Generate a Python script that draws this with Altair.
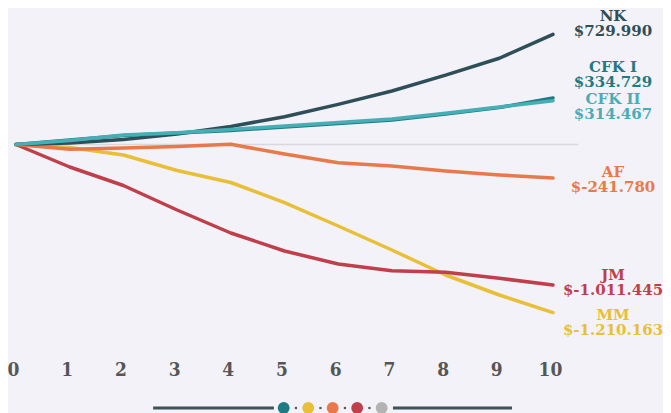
import altair as alt
import pandas as pd

# ---------------- data ----------------
years = list(range(11))
series = ["NK", "CFK I", "CFK II", "AF", "JM", "MM"]
colors = ["#2e4f59", "#1f7b82", "#47aeb6", "#e9794a", "#bf3f4b", "#e8bf36"]

NK = [0, 11000, 36000, 76000, 130000, 200000, 289000, 385000, 500000, 621000, 793000]
CFK_I = [0, 32400, 64800, 82800, 100800, 126000, 151200, 176400, 219600, 266400, 334729]
CFK_II = [0, 28800, 68400, 85000, 108000, 133200, 158400, 183600, 224600, 270000, 314467]
AF = [0, -34560, -25200, -14400, 1440, -68400, -131040, -154800, -190800, -219600, -241780]
JM = [0, -162000, -295200, -471600, -637200, -766800, -860400, -908640, -920160, -963360, -1011445]
MM = [0, -21600, -75600, -187200, -273600, -419040, -586800, -759600, -939600, -1083600, -1210163]

final_values = [729990, 334729, 314467, -241780, -1011445, -1210163]
values = [NK, CFK_I, CFK_II, AF, JM, MM]

dot_colors = ["#1f7b82", "#e8bf36", "#e9794a", "#bf3f4b", "#b3b3b3"]

# ---------------- layout / style ----------------
FONT_LAB = "DejaVu Serif"
FONT_AX = "DejaVu Serif Condensed"
BG = "#f3f2f8"
LABEL_DX = 60
# vertical offset of each label's first line relative to its line end
label_dy = {"NK": -18.8, "CFK I": -31.5, "CFK II": -1.5, "AF": -6.4, "JM": -9.5, "MM": 2.9}
draw_order = ["MM", "JM", "AF", "NK", "CFK I", "CFK II"]

rows = []
for s, vals in zip(series, values):
    for yr, v in zip(years, vals):
        rows.append({"serie": s, "year": yr, "value": v})
df = pd.DataFrame(rows)

x_scale = alt.Scale(domain=[0, 10], nice=False, zero=False)
y_scale = alt.Scale(domain=[-1479600, 982800], nice=False, zero=False)

x_axis = alt.Axis(values=years, format="d", ticks=False, tickSize=0,
                  domain=False, grid=False, title=None,
                  labelFont=FONT_AX, labelFontWeight="bold",
                  labelFontSize=19, labelColor="#565656",
                  labelBaseline="middle", labelPadding=19,
                  labelOffset=-3, labelFlush=False)

layers = []

# zero reference line
zero_df = pd.DataFrame({"x": [0], "x2": [10.47], "y": [0]})
layers.append(
    alt.Chart(zero_df).mark_rule(color="#d9d8de", strokeWidth=1.3).encode(
        x=alt.X("x:Q", scale=x_scale, axis=x_axis),
        x2="x2:Q",
        y=alt.Y("y:Q", scale=y_scale, axis=None),
    )
)

for s in draw_order:
    i = series.index(s)
    layers.append(
        alt.Chart(df[df.serie == s]).mark_line(
            color=colors[i], strokeWidth=3.5, strokeCap="round", strokeJoin="round"
        ).encode(x=alt.X("year:Q"), y=alt.Y("value:Q"))
    )

for i, s in enumerate(series):
    end = values[i][-1]
    txt_val = ("$" + f"{final_values[i]:,}").replace(",", ".")
    layers.append(
        alt.Chart(pd.DataFrame({"year": [10], "value": [end], "t": [s + "\n" + txt_val]})).mark_text(
            font=FONT_LAB, fontWeight="bold", fontSize=15, color=colors[i],
            align="center", baseline="middle", lineBreak="\n", lineHeight=15,
            dx=LABEL_DX, dy=label_dy[s]
        ).encode(x="year:Q", y="value:Q", text="t:N")
    )

# decorative pager at the bottom (index -> x via a linear map)
pager_y = -1897200
pager_lines = pd.DataFrame({"a": [-5.33, 4.46], "b": [-0.4, 9.32]})
pager_dots = pd.DataFrame({"i": list(range(5)), "c": dot_colors})
pager_small = pd.DataFrame({"i": [0.5, 1.5, 2.5, 3.5]})
p0, pstep = 4.985, 0.4562

layers.append(
    alt.Chart(pager_lines).transform_calculate(
        year=f"{p0} + {pstep} * datum.a", year2=f"{p0} + {pstep} * datum.b", value=str(pager_y)
    ).mark_rule(color="#3e5156", strokeWidth=3.2).encode(
        x="year:Q", x2="year2:Q", y="value:Q")
)
layers.append(
    alt.Chart(pager_small).transform_calculate(
        year=f"{p0} + {pstep} * datum.i", value=str(pager_y)
    ).mark_square(size=5, color="#555555", opacity=1).encode(x="year:Q", y="value:Q")
)
layers.append(
    alt.Chart(pager_dots).transform_calculate(
        year=f"{p0} + {pstep} * datum.i", value=str(pager_y)
    ).mark_circle(size=140, opacity=1).encode(
        x="year:Q", y="value:Q", color=alt.Color("c:N", scale=None))
)

chart = alt.layer(*layers).properties(
    width=537, height=342,
    autosize=alt.AutoSizeParams(type="none"),
    padding={"left": 8, "top": 0, "right": 110, "bottom": 63},
    background=BG,
).configure_view(stroke=None)

chart.save("out.html", embed_options={"renderer": "svg", "actions": False})
